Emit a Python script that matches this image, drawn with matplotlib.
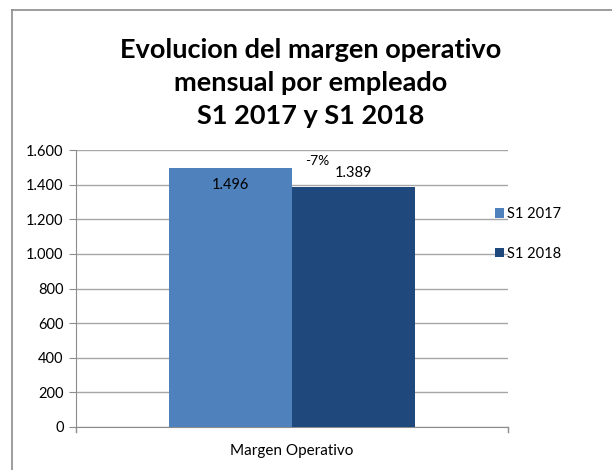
import matplotlib
matplotlib.use("Agg")
import matplotlib.pyplot as plt
from matplotlib.lines import Line2D

categories = ["Margen Operativo"]
series_names = ["S1 2017", "S1 2018"]
values_2017 = [1496]
values_2018 = [1389]
value_labels_2017 = ["1.496"]
value_labels_2018 = ["1.389"]
change_label = "-7%"
yticks = [0, 200, 400, 600, 800, 1000, 1200, 1400, 1600]
ytick_labels = ["0", "200", "400", "600", "800", "1.000", "1.200", "1.400", "1.600"]
title = "Evolucion del margen operativo\nmensual por empleado\nS1 2017 y S1 2018"

colors = ["#4F81BD", "#1F497D"]
plt.rcParams['font.family'] = ['Lato', 'DejaVu Sans']

W, H = 612, 470
fig = plt.figure(figsize=(W/100, H/100), dpi=100)

# outer frame
fig.add_artist(Line2D([12/W, 1], [1-10/H, 1-10/H], color="#8C8C8C", lw=1.2, transform=fig.transFigure))
fig.add_artist(Line2D([12/W, 12/W], [0, 1-10/H], color="#8C8C8C", lw=1.2, transform=fig.transFigure))

ax = fig.add_axes([76/W, 1-427/H, (508-76)/W, (427-150)/H])
bw = 0.285
x = range(len(categories))
b1 = ax.bar([i - bw/2 for i in x], values_2017, width=bw, color=colors[0], label=series_names[0], zorder=3)
b2 = ax.bar([i + bw/2 for i in x], values_2018, width=bw, color=colors[1], label=series_names[1], zorder=3)

ax.set_xlim(-0.5, 0.5)
ax.set_ylim(0, 1600)
ax.set_yticks(yticks)
ax.set_yticklabels(ytick_labels, fontsize=10.5)
ax.set_xticks([0])
ax.set_xticklabels(categories, fontsize=11)
ax.tick_params(axis='x', length=0, pad=12)
ax.tick_params(axis='y', length=5, color="#8C8C8C", pad=4)
ax.yaxis.grid(True, color="#A6A6A6", lw=1.0, zorder=0)
for s in ["top", "right"]:
    ax.spines[s].set_visible(False)
for s in ["left", "bottom"]:
    ax.spines[s].set_color("#8C8C8C")
for xe in [-0.5, 0.5]:
    ax.plot([xe, xe], [0, -0.018], transform=ax.get_xaxis_transform(), color="#8C8C8C", lw=1, clip_on=False)

for i in x:
    ax.text(i - bw/2, values_2017[i] - 100, value_labels_2017[i], ha='center', va='center', fontsize=10.5, color='black', zorder=4)
    ax.text(i + bw/2, values_2018[i] + 78, value_labels_2018[i], ha='center', va='center', fontsize=10.5, color='black', zorder=4)
    ax.text(i + bw/2 - 0.085, values_2018[i] + 150, change_label, ha='center', va='center', fontsize=10, color='black', zorder=4)

leg = fig.legend(handles=[b1, b2], labels=series_names, loc='upper left',
                 bbox_to_anchor=(482/W, 1-194/H), frameon=False, fontsize=10.5,
                 handlelength=0.6, handleheight=0.6, handletextpad=0.2, labelspacing=1.75)

fig.text(311/W, 1-83/H, title, ha='center', va='center', fontsize=19.5, fontweight='bold', linespacing=1.45)

fig.savefig("out.png", dpi=100)
